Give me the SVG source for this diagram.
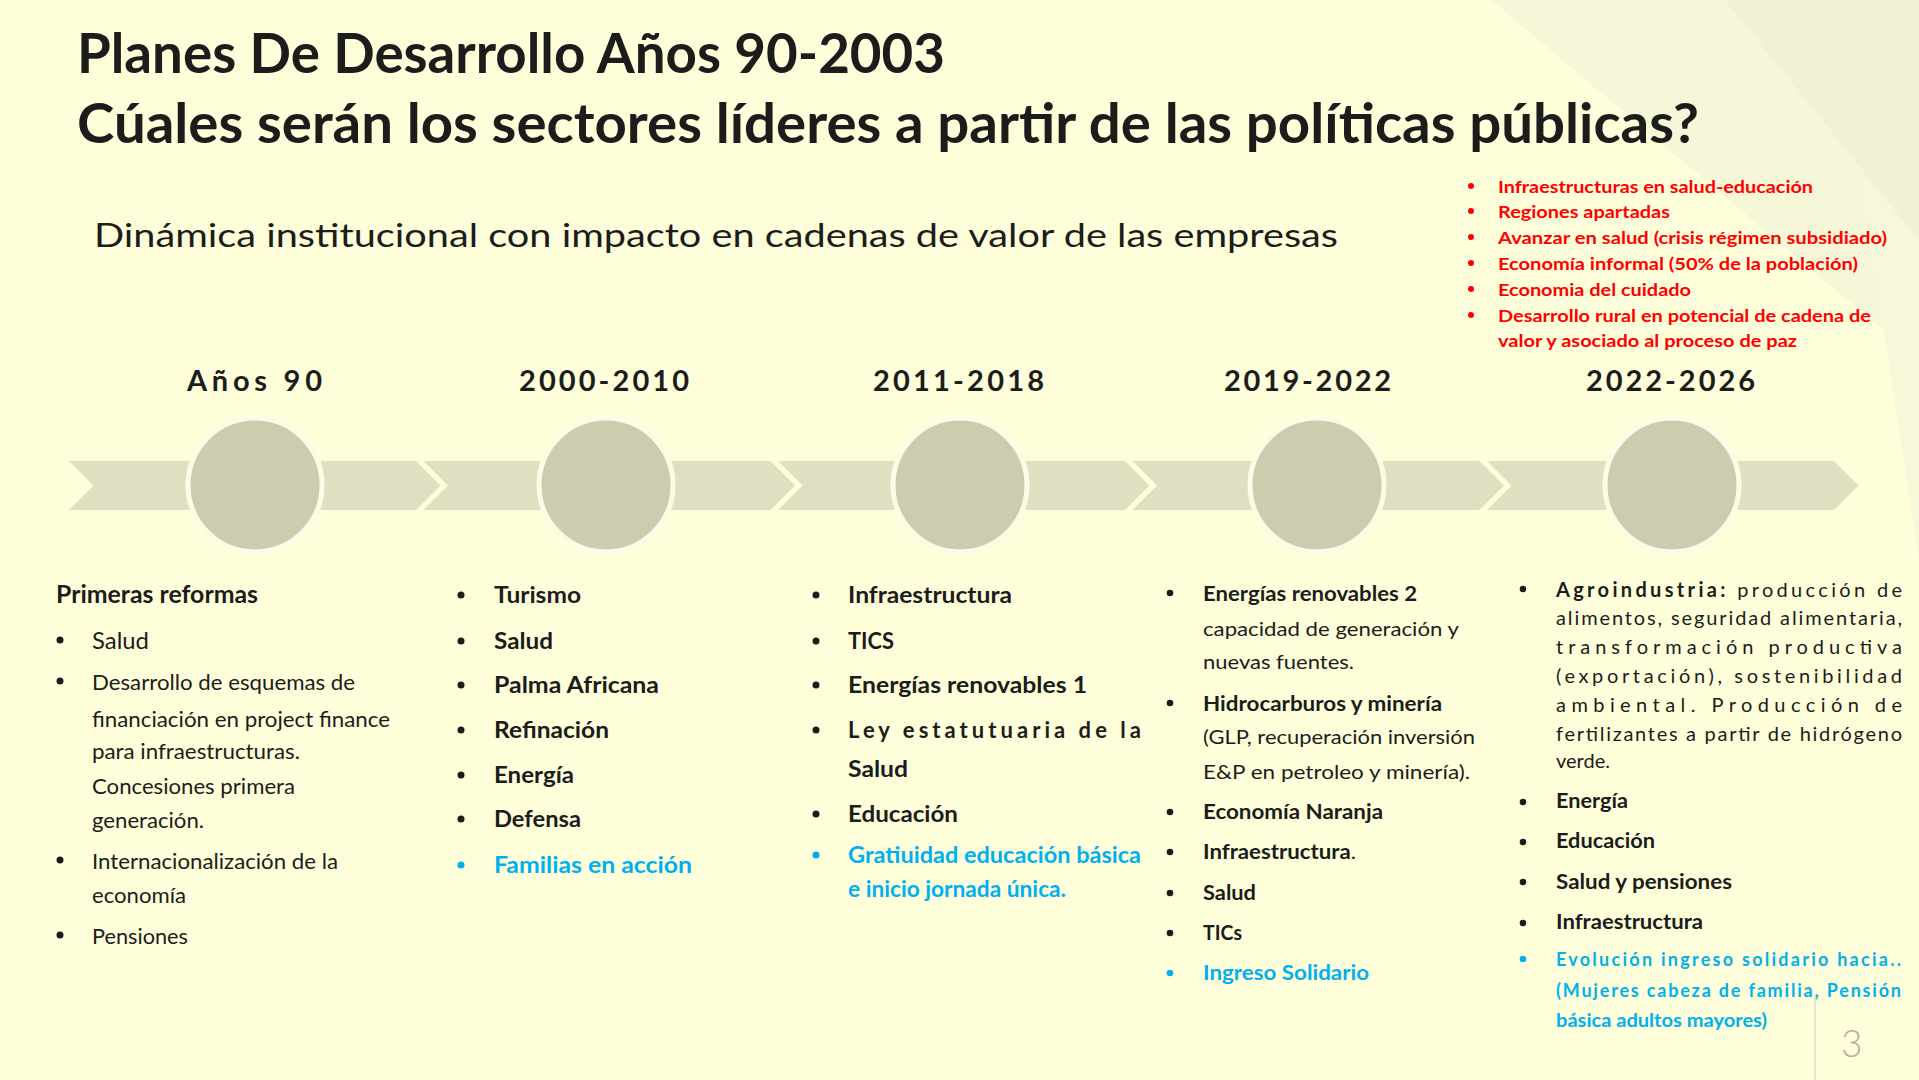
<svg xmlns="http://www.w3.org/2000/svg" width="1919" height="1080" viewBox="0 0 1919 1080">
<defs>
<style>
text{font-family:Lato,"Open Sans","Liberation Sans",sans-serif;fill:#1c1c1a}
.title{font-size:55px;font-weight:700}
.sub{font-size:32px}
.yr{font-size:29px;font-weight:700}
.red{font-size:17px;font-weight:700;fill:#ff0000}
.b22{font-size:22px;font-weight:700}
.r21{font-size:21px}
.b20{font-size:20px;font-weight:700}
.r20{font-size:20px}
.blue{fill:#00b0f0}
.blue18{font-size:18px;font-weight:700;fill:#00b0f0}
.dot{fill:#1c1c1a}
.dotb{fill:#00b0f0}
.dotr{fill:#ff0000}
.chev{fill:#dfdfc2}
.circ{fill:#cdccae;stroke:#fcfce6;stroke-width:5}
</style>
</defs>
<rect width="1919" height="1080" fill="#fefedb"/>
<g id="decor">
<polygon points="1491,0 1919,0 1919,360" fill="#f6f6d8"/>
<polygon points="1725,0 1919,0 1919,240" fill="#f1f1d4"/>
<polygon points="1860,175 1919,240 1919,560" fill="#f7f7da"/>
</g>
<g id="title">
<text class="title" x="77" y="73" textLength="868" lengthAdjust="spacingAndGlyphs">Planes De Desarrollo Años 90-2003</text>
<text class="title" x="77" y="143" textLength="1622" lengthAdjust="spacingAndGlyphs">Cúales serán los sectores líderes a partir de las políticas públicas?</text>
</g>
<g id="subtitle">
<text class="sub" x="94" y="247" textLength="1244" lengthAdjust="spacingAndGlyphs">Dinámica institucional con impacto en cadenas de valor de las empresas</text>
</g>
<g id="red-list">
<circle class="dotr" cx="1471" cy="186" r="3"/>
<circle class="dotr" cx="1471" cy="211" r="3"/>
<circle class="dotr" cx="1471" cy="237" r="3"/>
<circle class="dotr" cx="1471" cy="263" r="3"/>
<circle class="dotr" cx="1471" cy="289" r="3"/>
<circle class="dotr" cx="1471" cy="315" r="3"/>
<text class="red" x="1498" y="193" textLength="315" lengthAdjust="spacingAndGlyphs">Infraestructuras en salud-educación</text>
<text class="red" x="1498" y="218" textLength="172" lengthAdjust="spacingAndGlyphs">Regiones apartadas</text>
<text class="red" x="1498" y="244" textLength="389" lengthAdjust="spacingAndGlyphs">Avanzar en salud (crisis régimen subsidiado)</text>
<text class="red" x="1498" y="270" textLength="360" lengthAdjust="spacingAndGlyphs">Economía informal (50% de la población)</text>
<text class="red" x="1498" y="296" textLength="193" lengthAdjust="spacingAndGlyphs">Economia del cuidado</text>
<text class="red" x="1498" y="322" textLength="373" lengthAdjust="spacingAndGlyphs">Desarrollo rural en potencial de cadena de</text>
<text class="red" x="1498" y="347" textLength="299" lengthAdjust="spacingAndGlyphs">valor y asociado al proceso de paz</text>
</g>
<g id="connectors">
<polygon class="chev" points="69,461 416,461 440.5,485.5 416,510 69,510 93.5,485.5"/>
<polygon class="chev" points="423.5,461 770.5,461 795,485.5 770.5,510 423.5,510 448,485.5"/>
<polygon class="chev" points="778,461 1125,461 1149.5,485.5 1125,510 778,510 802.5,485.5"/>
<polygon class="chev" points="1132.5,461 1479.5,461 1504,485.5 1479.5,510 1132.5,510 1157,485.5"/>
<polygon class="chev" points="1487,461 1834,461 1858.5,485.5 1834,510 1487,510 1511.5,485.5"/>
</g>
<g id="node-anos90">
<circle class="circ" cx="255" cy="485" r="67"/>
<text class="yr" x="187" y="391" textLength="135">Años 90</text>
<text class="b22" x="56" y="603" font-size="24" textLength="202" lengthAdjust="spacingAndGlyphs" style="font-size:24px">Primeras reformas</text>
<circle class="dot" cx="60" cy="640" r="3.5"/>
<circle class="dot" cx="60" cy="681" r="3.5"/>
<circle class="dot" cx="60" cy="860" r="3.5"/>
<circle class="dot" cx="60" cy="935" r="3.5"/>
<text class="r21" x="92" y="649" style="font-size:24px" textLength="57" lengthAdjust="spacingAndGlyphs">Salud</text>
<text class="r21" x="92" y="690" textLength="263" lengthAdjust="spacingAndGlyphs">Desarrollo de esquemas de</text>
<text class="r21" x="92" y="727" textLength="298" lengthAdjust="spacingAndGlyphs">financiación en project finance</text>
<text class="r21" x="92" y="759" textLength="208" lengthAdjust="spacingAndGlyphs">para infraestructuras.</text>
<text class="r21" x="92" y="794" textLength="203" lengthAdjust="spacingAndGlyphs">Concesiones primera</text>
<text class="r21" x="92" y="828" textLength="112" lengthAdjust="spacingAndGlyphs">generación.</text>
<text class="r21" x="92" y="869" textLength="246" lengthAdjust="spacingAndGlyphs">Internacionalización de la</text>
<text class="r21" x="92" y="903" textLength="94" lengthAdjust="spacingAndGlyphs">economía</text>
<text class="r21" x="92" y="944" textLength="96" lengthAdjust="spacingAndGlyphs">Pensiones</text>
</g>
<g id="node-2000-2010">
<circle class="circ" cx="606" cy="485" r="67"/>
<text class="yr" x="519" y="391" textLength="170">2000-2010</text>
<circle class="dot" cx="461" cy="595" r="3.5"/>
<circle class="dot" cx="461" cy="641" r="3.5"/>
<circle class="dot" cx="461" cy="685" r="3.5"/>
<circle class="dot" cx="461" cy="730" r="3.5"/>
<circle class="dot" cx="461" cy="775" r="3.5"/>
<circle class="dot" cx="461" cy="819" r="3.5"/>
<circle class="dotb" cx="461" cy="865" r="3.5"/>
<text class="b22" x="494" y="603" textLength="87" lengthAdjust="spacingAndGlyphs">Turismo</text>
<text class="b22" x="494" y="649" textLength="59" lengthAdjust="spacingAndGlyphs">Salud</text>
<text class="b22" x="494" y="693" textLength="165" lengthAdjust="spacingAndGlyphs">Palma Africana</text>
<text class="b22" x="494" y="738" textLength="115" lengthAdjust="spacingAndGlyphs">Refinación</text>
<text class="b22" x="494" y="783" textLength="80" lengthAdjust="spacingAndGlyphs">Energía</text>
<text class="b22" x="494" y="827" textLength="87" lengthAdjust="spacingAndGlyphs">Defensa</text>
<text class="b22 blue" x="494" y="873" textLength="198" lengthAdjust="spacingAndGlyphs" style="fill:#00b0f0">Familias en acción</text>
</g>
<g id="node-2011-2018">
<circle class="circ" cx="960" cy="485" r="67"/>
<text class="yr" x="873" y="391" textLength="171">2011-2018</text>
<circle class="dot" cx="816" cy="595" r="3.5"/>
<circle class="dot" cx="816" cy="641" r="3.5"/>
<circle class="dot" cx="816" cy="685" r="3.5"/>
<circle class="dot" cx="816" cy="730" r="3.5"/>
<circle class="dot" cx="816" cy="814" r="3.5"/>
<circle class="dotb" cx="816" cy="855" r="3.5"/>
<text class="b22" x="848" y="603" textLength="164" lengthAdjust="spacingAndGlyphs">Infraestructura</text>
<text class="b22" x="848" y="649" textLength="46" lengthAdjust="spacingAndGlyphs">TICS</text>
<text class="b22" x="848" y="693" textLength="239" lengthAdjust="spacingAndGlyphs">Energías renovables 1</text>
<text class="b22" x="848" y="738" textLength="293">Ley estatutuaria de la</text>
<text class="b22" x="848" y="777" textLength="60" lengthAdjust="spacingAndGlyphs">Salud</text>
<text class="b22" x="848" y="822" textLength="110" lengthAdjust="spacingAndGlyphs">Educación</text>
<text class="b22" x="848" y="863" textLength="293" lengthAdjust="spacingAndGlyphs" style="fill:#00b0f0">Gratiuidad educación básica</text>
<text class="b22" x="848" y="897" textLength="218" lengthAdjust="spacingAndGlyphs" style="fill:#00b0f0">e inicio jornada única.</text>
</g>
<g id="node-2019-2022">
<circle class="circ" cx="1317" cy="485" r="67"/>
<text class="yr" x="1224" y="391" textLength="167">2019-2022</text>
<circle class="dot" cx="1170" cy="593" r="3.3"/>
<circle class="dot" cx="1170" cy="703" r="3.3"/>
<circle class="dot" cx="1170" cy="812" r="3.3"/>
<circle class="dot" cx="1170" cy="852" r="3.3"/>
<circle class="dot" cx="1170" cy="893" r="3.3"/>
<circle class="dot" cx="1170" cy="933" r="3.3"/>
<circle class="dotb" cx="1170" cy="973" r="3.3"/>
<text class="b20" x="1203" y="601" textLength="214" lengthAdjust="spacingAndGlyphs">Energías renovables 2</text>
<text class="r20" x="1203" y="636" textLength="256" lengthAdjust="spacingAndGlyphs">capacidad de generación y</text>
<text class="r20" x="1203" y="669" textLength="151" lengthAdjust="spacingAndGlyphs">nuevas fuentes.</text>
<text class="b20" x="1203" y="711" textLength="239" lengthAdjust="spacingAndGlyphs">Hidrocarburos y minería</text>
<text class="r20" x="1203" y="744" textLength="272" lengthAdjust="spacingAndGlyphs">(GLP, recuperación inversión</text>
<text class="r20" x="1203" y="779" textLength="267" lengthAdjust="spacingAndGlyphs">E&amp;P en petroleo y minería).</text>
<text class="b20" x="1203" y="819" textLength="180" lengthAdjust="spacingAndGlyphs">Economía Naranja</text>
<text class="b20" x="1203" y="859" textLength="153" lengthAdjust="spacingAndGlyphs">Infraestructura<tspan font-weight="400">.</tspan></text>
<text class="b20" x="1203" y="900" textLength="53" lengthAdjust="spacingAndGlyphs">Salud</text>
<text class="b20" x="1203" y="940" textLength="39" lengthAdjust="spacingAndGlyphs">TICs</text>
<text class="b20" x="1203" y="980" textLength="166" lengthAdjust="spacingAndGlyphs" style="fill:#00b0f0">Ingreso Solidario</text>
</g>
<g id="node-2022-2026">
<circle class="circ" cx="1672" cy="485" r="67"/>
<text class="yr" x="1586" y="391" textLength="169">2022-2026</text>
<circle class="dot" cx="1523" cy="589" r="3.3"/>
<circle class="dot" cx="1523" cy="802" r="3.3"/>
<circle class="dot" cx="1523" cy="842" r="3.3"/>
<circle class="dot" cx="1523" cy="882" r="3.3"/>
<circle class="dot" cx="1523" cy="923" r="3.3"/>
<circle class="dotb" cx="1523" cy="959" r="3.3"/>
<text class="r20" x="1556" y="597" textLength="346"><tspan font-weight="700">Agroindustria:</tspan> producción de</text>
<text class="r20" x="1556" y="625" textLength="346">alimentos, seguridad alimentaria,</text>
<text class="r20" x="1556" y="654" textLength="346">transformación productiva</text>
<text class="r20" x="1556" y="683" textLength="346">(exportación), sostenibilidad</text>
<text class="r20" x="1556" y="712" textLength="346">ambiental. Producción de</text>
<text class="r20" x="1556" y="741" textLength="346">fertilizantes a partir de hidrógeno</text>
<text class="r20" x="1556" y="768">verde.</text>
<text class="b20" x="1556" y="808" textLength="72" lengthAdjust="spacingAndGlyphs">Energía</text>
<text class="b20" x="1556" y="848" textLength="99" lengthAdjust="spacingAndGlyphs">Educación</text>
<text class="b20" x="1556" y="889" textLength="176" lengthAdjust="spacingAndGlyphs">Salud y pensiones</text>
<text class="b20" x="1556" y="929" textLength="147" lengthAdjust="spacingAndGlyphs">Infraestructura</text>
<text class="blue18" x="1556" y="966" textLength="345">Evolución ingreso solidario hacia..</text>
<text class="blue18" x="1556" y="997" textLength="345">(Mujeres cabeza de familia, Pensión</text>
<text class="blue18" x="1556" y="1027" textLength="211" lengthAdjust="spacingAndGlyphs">básica adultos mayores)</text>
</g>
<g id="page-number">
<line x1="1815" y1="997" x2="1815" y2="1080" stroke="#cfc8b3" stroke-width="1"/>
<text x="1841" y="1057" style="font-size:37px;font-weight:300;fill:#b8ad99">3</text>
</g>
</svg>
